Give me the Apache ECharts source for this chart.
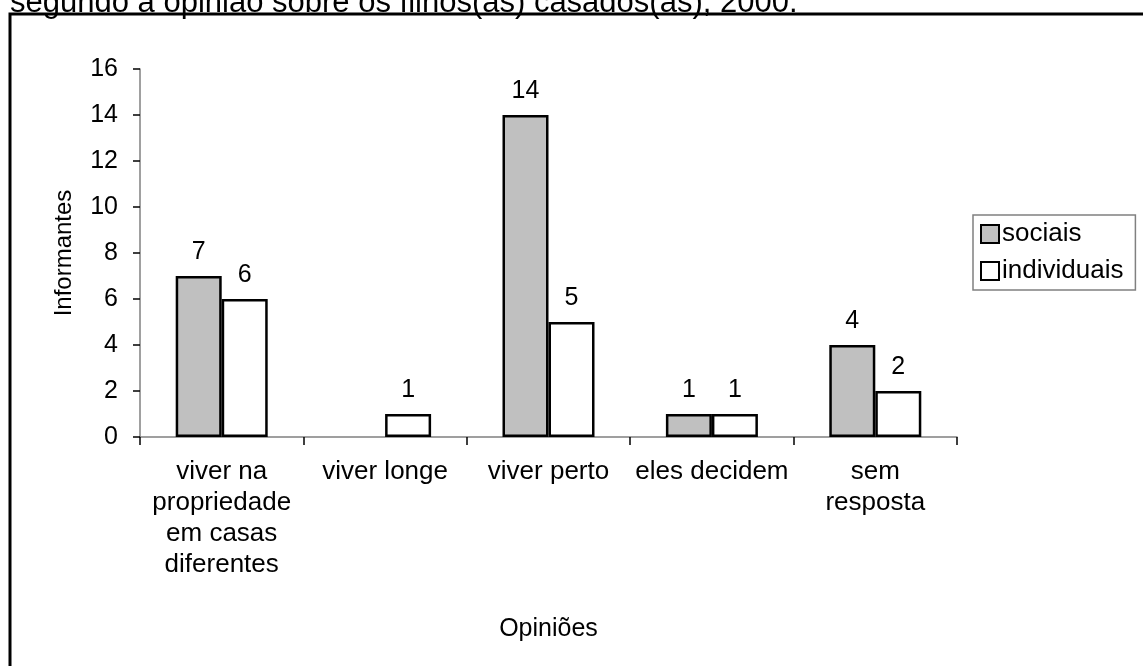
<!DOCTYPE html>
<html>
<head>
<meta charset="utf-8">
<script src="https://cdn.jsdelivr.net/npm/echarts@6/dist/echarts.min.js"></script>
<style>
  html, body { margin: 0; padding: 0; background: #fff; }
  #chart { width: 1143px; height: 666px; }
</style>
</head>
<body>
<div id="chart"></div>
<script>
// Opinions on married sons/daughters, 2000
const categories = [
  'viver na\npropriedade\nem casas\ndiferentes',
  'viver longe',
  'viver perto',
  'eles decidem',
  'sem\nresposta'
];
const sociais = [7, null, 14, 1, 4];
const individuais = [6, 1, 5, 1, 2];
const yTicks = { min: 0, max: 16, interval: 2 };
const titleText = 'segundo a opinião sobre os filhos(as) casados(as), 2000.';

const FONT = '"Liberation Sans", Arial, sans-serif';

const chart = echarts.init(document.getElementById('chart'), null, { renderer: 'canvas' });

const labelStyle = {
  show: true,
  position: 'top',
  distance: 11,
  color: '#000',
  fontSize: 25,
  fontFamily: FONT
};

chart.setOption({
  animation: false,
  backgroundColor: '#fff',
  textStyle: { fontFamily: FONT, color: '#000' },
  graphic: [
    {
      type: 'text',
      left: 10,
      top: -12,
      style: { text: titleText, fontSize: 31, fontFamily: FONT, fill: '#000' }
    },
    {
      type: 'rect',
      shape: { x: 10, y: 14, width: 1200, height: 700 },
      style: { fill: 'none', stroke: '#000', lineWidth: 3 },
      silent: true
    }
  ],
  legend: {
    orient: 'vertical',
    left: 973,
    top: 215,
    padding: [6, 12, 6, 7],
    itemGap: 11,
    itemWidth: 18,
    itemHeight: 18,
    icon: 'rect',
    borderColor: '#808080',
    borderWidth: 1.5,
    itemStyle: { borderColor: '#000', borderWidth: 2 },
    textStyle: { fontSize: 26, fontFamily: FONT, color: '#000', padding: [0, 0, 0, -2] },
    data: ['sociais', 'individuais']
  },
  grid: { left: 140, right: 186, top: 69, bottom: 229, containLabel: false },
  xAxis: {
    type: 'category',
    data: categories,
    name: 'Opiniões',
    nameLocation: 'middle',
    nameGap: 180,
    nameTextStyle: { fontSize: 25, fontFamily: FONT, color: '#000' },
    axisLine: { lineStyle: { color: '#808080', width: 1.5 } },
    axisTick: { show: true, alignWithLabel: false, length: 8, lineStyle: { color: '#000', width: 1.5 } },
    axisLabel: {
      interval: 0,
      margin: 19,
      fontSize: 26,
      lineHeight: 31,
      color: '#000',
      fontFamily: FONT,
      align: 'center'
    },
    splitLine: { show: false }
  },
  yAxis: {
    type: 'value',
    min: yTicks.min,
    max: yTicks.max,
    interval: yTicks.interval,
    name: 'Informantes',
    nameLocation: 'middle',
    nameGap: 64,
    nameRotate: 90,
    nameTextStyle: { fontSize: 24, fontFamily: FONT, color: '#000' },
    axisLine: { show: true, lineStyle: { color: '#808080', width: 1.5 } },
    axisTick: { show: true, length: 7, lineStyle: { color: '#000', width: 1.5 } },
    axisLabel: { margin: 22, fontSize: 25, color: '#000', fontFamily: FONT },
    splitLine: { show: false }
  },
  series: [
    {
      name: 'sociais',
      type: 'bar',
      data: sociais,
      barWidth: 46,
      barGap: '0%',
      itemStyle: { color: '#c0c0c0', borderColor: '#000', borderWidth: 2.5 },
      label: labelStyle
    },
    {
      name: 'individuais',
      type: 'bar',
      data: individuais,
      barWidth: 46,
      barGap: '0%',
      itemStyle: { color: '#ffffff', borderColor: '#000', borderWidth: 2.5 },
      label: labelStyle
    }
  ]
});
</script>
</body>
</html>
